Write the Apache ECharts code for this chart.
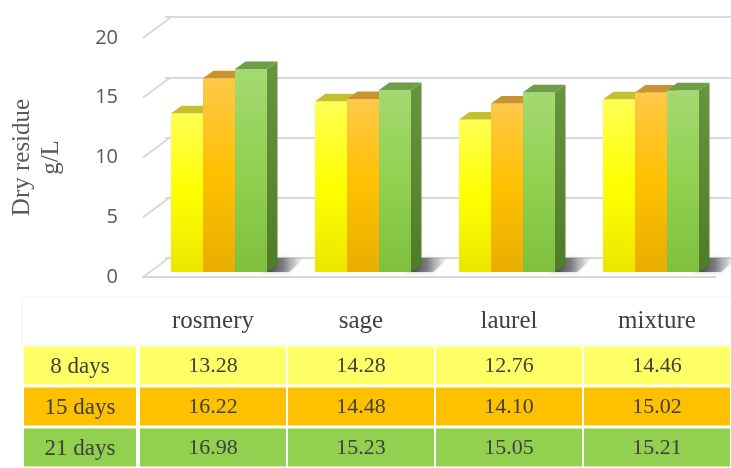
<!DOCTYPE html>
<html>
<head>
<meta charset="utf-8">
<script src="https://cdn.jsdelivr.net/npm/echarts@6/dist/echarts.min.js"></script>
<style>
  html, body { margin: 0; padding: 0; background: #ffffff; }
  #chart { width: 731px; height: 468px; }
</style>
</head>
<body>
<div id="chart"></div>
<script>
// Dry residue (g/L) per herb extract, measured after 8, 15 and 21 days
const categories = ['rosmery', 'sage', 'laurel', 'mixture'];
const seriesNames = ['8 days', '15 days', '21 days'];
const days8 = [13.28, 14.28, 12.76, 14.46];
const days15 = [16.22, 14.48, 14.10, 15.02];
const days21 = [16.98, 15.23, 15.05, 15.21];
const valueTicks = [0, 5, 10, 15, 20];
const axisTitle = 'Dry residue\ng/L';

const seriesValues = [days8, days15, days21];

// Colours for the bar faces and the table rows
const palette = [
  { front: ['#FFFF55', '#FFFF00', '#ECE600'], top: '#C6BF2E', side: ['#B8B223', '#A39E18'], cell: '#FFFF66' },
  { front: ['#FFC848', '#FFC000', '#E8AE00'], top: '#C9932E', side: ['#B98A1E', '#A27812'], cell: '#FFC000' },
  { front: ['#A3DA72', '#92D050', '#7EC13E'], top: '#6F9D48', side: ['#67963F', '#4F7B29'], cell: '#92D050' }
];

const DEPTH_X = 10.5;   // oblique depth of a bar
const DEPTH_Y = 7.5;
const WALL_X = 27;      // offset from the front edge of the floor to the back wall
const WALL_Y = -20;

const serif = '"Liberation Serif", "DejaVu Serif", serif';
const textGrey = '#404040';

function grad(x0, y0, x1, y1, stops) {
  return new echarts.graphic.LinearGradient(x0, y0, x1, y1,
    stops.map((c, i) => ({ offset: i / (stops.length - 1), color: c })));
}

// One 3D column per data item: side face, front face and top face
function barRenderer(si) {
  return function (params, api) {
    const cat = api.value(0);
    const v = api.value(1);
    const base = api.coord([cat, 0]);
    const top = api.coord([cat, v]);
    const band = api.size([1, 0])[0];
    const w = band * 2 / 9;
    const x0 = base[0] - 1.5 * w + si * w;
    const x1 = x0 + w;
    const p = palette[si];
    return {
      type: 'group',
      children: [
        {
          type: 'polygon',
          shape: { points: [[x1, top[1]], [x1 + DEPTH_X, top[1] - DEPTH_Y], [x1 + DEPTH_X, base[1] - DEPTH_Y], [x1, base[1]]] },
          style: { fill: grad(0, 0, 0, 1, p.side) }
        },
        {
          type: 'rect',
          shape: { x: x0, y: top[1], width: w, height: base[1] - top[1] },
          style: { fill: grad(0, 0, 0, 1, p.front) }
        },
        {
          type: 'polygon',
          shape: { points: [[x0, top[1]], [x0 + DEPTH_X, top[1] - DEPTH_Y], [x1 + DEPTH_X, top[1] - DEPTH_Y], [x1, top[1]]] },
          style: { fill: p.top }
        }
      ]
    };
  };
}

// Soft shadow cast on the floor behind each group of columns
function shadowRenderer(params, api) {
  const cat = api.value(0);
  const base = api.coord([cat, 0]);
  const band = api.size([1, 0])[0];
  const w = band * 2 / 9;
  const gr = base[0] + 1.5 * w;
  const y = base[1];
  return {
    type: 'polygon',
    shape: { points: [[gr - 6, y], [gr + 22, y], [gr + 38, y - 14], [gr + 4, y - 14]] },
    style: {
      fill: grad(0, 0, 1, 0, ['rgba(30,30,30,0.9)', 'rgba(80,80,80,0.65)', 'rgba(170,170,170,0)']),
      shadowBlur: 4,
      shadowColor: 'rgba(0,0,0,0.3)'
    }
  };
}

// Slanted grid lines joining the front edge to the back wall
function diagonalRenderer(params, api) {
  const p = api.coord([0, api.value(1)]);
  return {
    type: 'line',
    shape: { x1: p[0], y1: p[1], x2: p[0] + WALL_X, y2: p[1] + WALL_Y },
    style: { stroke: '#d9d9d9', lineWidth: 2 }
  };
}

// Table cells: coloured rectangle with centred text
function cellRenderer(params, api) {
  const c = api.coord([api.value(0), api.value(1)]);
  const s = api.size([1, 1]);
  const row = api.value(1);
  const isRowLabel = params.seriesName === 'rowLabels';
  const label = isRowLabel ? seriesNames[row] : Number(api.value(2)).toFixed(2);
  return {
    type: 'group',
    children: [
      {
        type: 'rect',
        shape: { x: c[0] - s[0] / 2 + 1, y: c[1] - s[1] / 2 + 1.5, width: s[0] - 2, height: s[1] - 3 },
        style: { fill: palette[row].cell }
      },
      {
        type: 'text',
        style: {
          x: c[0], y: c[1] + 1, text: label,
          align: 'center', verticalAlign: 'middle',
          font: (isRowLabel ? '23px ' : '22px ') + serif, fill: textGrey
        }
      }
    ]
  };
}

const tableData = [];
seriesValues.forEach((vals, i) => vals.forEach((v, j) => tableData.push([j, i, v])));

const chart = echarts.init(document.getElementById('chart'), null, { renderer: 'canvas' });

chart.setOption({
  animation: false,
  backgroundColor: '#ffffff',
  grid: [
    { left: 147, width: 576, top: 33, bottom: 196 },   // columns
    { left: 165, right: 0, top: 17, bottom: 210 },     // back wall
    { left: 138, width: 577, top: 38, bottom: 191 },   // front edge with tick labels
    { left: 23, width: 114, top: 345, height: 130 },   // table row labels
    { left: 139, width: 600, top: 345, height: 130 }   // table values
  ],
  xAxis: [
    { gridIndex: 0, type: 'category', data: categories, show: false },
    { gridIndex: 1, type: 'value', min: 0, max: 1, show: false },
    {
      gridIndex: 2, type: 'value', min: 0, max: 1,
      axisLine: { show: true, lineStyle: { color: '#d9d9d9', width: 2 } },
      axisTick: { show: false }, axisLabel: { show: false }, splitLine: { show: false }
    },
    { gridIndex: 3, type: 'category', data: [''], show: false },
    {
      gridIndex: 4, type: 'category', data: categories, position: 'top',
      axisLine: { show: false }, axisTick: { show: false },
      axisLabel: { fontFamily: serif, fontSize: 25, color: textGrey, margin: 11 }
    }
  ],
  yAxis: [
    { gridIndex: 0, type: 'value', min: 0, max: 20, interval: 5, show: false },
    {
      gridIndex: 1, type: 'value', min: 0, max: 20, interval: 5,
      axisLine: { show: false }, axisTick: { show: false }, axisLabel: { show: false },
      splitLine: { show: true, lineStyle: { color: '#d9d9d9', width: 2 } }
    },
    {
      gridIndex: 2, type: 'value', min: 0, max: 20, interval: 5,
      axisLine: { show: false }, axisTick: { show: false }, splitLine: { show: false },
      axisLabel: {
        fontFamily: '"Open Sans", Lato, sans-serif', fontSize: 20, color: '#595959',
        margin: 25, padding: [4, 0, 0, 0]
      },
      name: axisTitle, nameLocation: 'middle', nameGap: 77,
      nameTextStyle: { fontFamily: serif, fontSize: 25, color: '#595959', lineHeight: 29 }
    },
    { gridIndex: 3, type: 'category', data: seriesNames, inverse: true, show: false },
    { gridIndex: 4, type: 'category', data: seriesNames, inverse: true, show: false }
  ],
  graphic: [
    {
      type: 'rect', silent: true, z: -1,
      shape: { x: 22, y: 297, width: 720, height: 48 },
      style: { fill: 'none', stroke: '#f0f0f0', lineWidth: 1 }
    }
  ],
  series: [
    {
      type: 'custom', name: 'diagonals', xAxisIndex: 2, yAxisIndex: 2,
      data: valueTicks.map(v => [0, v]), renderItem: diagonalRenderer, silent: true
    },
    {
      type: 'custom', name: 'floorShadow', xAxisIndex: 0, yAxisIndex: 0,
      data: categories.map((c, i) => [i, 0]), renderItem: shadowRenderer, silent: true
    },
    ...seriesNames.map((name, si) => ({
      type: 'custom', name: name, xAxisIndex: 0, yAxisIndex: 0,
      data: seriesValues[si].map((v, i) => [i, v]),
      renderItem: barRenderer(si)
    })),
    {
      type: 'custom', name: 'rowLabels', xAxisIndex: 3, yAxisIndex: 3,
      data: seriesNames.map((n, i) => [0, i]), renderItem: cellRenderer, silent: true
    },
    {
      type: 'custom', name: 'tableValues', xAxisIndex: 4, yAxisIndex: 4,
      data: tableData, renderItem: cellRenderer, silent: true
    }
  ]
});
</script>
</body>
</html>
